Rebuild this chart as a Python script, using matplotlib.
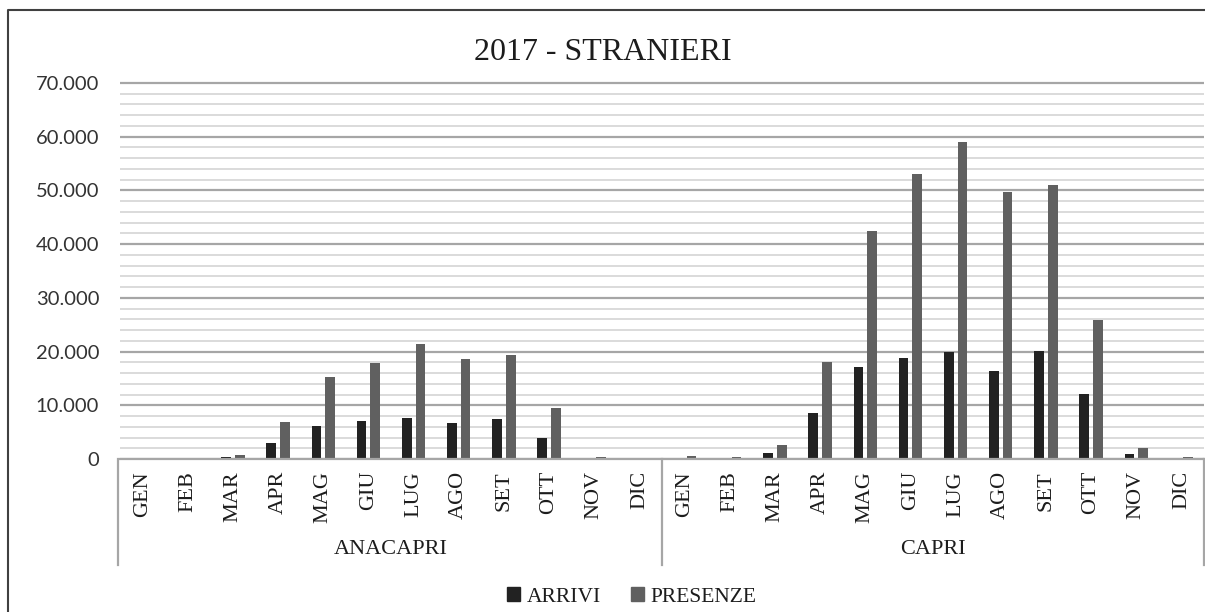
import matplotlib.pyplot as plt
from matplotlib.patches import Patch
from matplotlib.lines import Line2D
from matplotlib.ticker import FuncFormatter
import matplotlib.transforms as mtransforms

mesi = ["GEN", "FEB", "MAR", "APR", "MAG", "GIU", "LUG", "AGO", "SET", "OTT", "NOV", "DIC"]
comuni = ["ANACAPRI", "CAPRI"]

# valori (stranieri 2017)
arrivi_anacapri = [20, 30, 370, 3050, 6150, 7020, 7710, 6770, 7460, 3920, 60, 20]
presenze_anacapri = [60, 80, 810, 6840, 15290, 17840, 21500, 18650, 19330, 9450, 310, 40]
arrivi_capri = [90, 60, 1180, 8640, 17090, 18890, 20010, 16410, 20140, 12180, 990, 60]
presenze_capri = [560, 310, 2550, 18150, 42510, 53010, 58980, 49660, 50960, 25790, 2110, 310]

arrivi = arrivi_anacapri + arrivi_capri
presenze = presenze_anacapri + presenze_capri
labels = mesi + mesi

SERIF = "Liberation Serif"
C_ARR = "#222222"
C_PRE = "#606060"
C_GRID = "#a6a6a6"
C_TXT = "#1c1c1c"

W, H = 1205, 612
fig = plt.figure(figsize=(W / 100, H / 100), dpi=100)
ax = fig.add_axes([120 / W, 1 - 459 / H, 1084 / W, (459 - 81.4) / H])

x = list(range(len(labels)))
ax.bar([i - 0.15 for i in x], arrivi, width=0.215, color=C_ARR, zorder=3)
ax.bar([i + 0.15 for i in x], presenze, width=0.215, color=C_PRE, zorder=3)

ax.set_xlim(-0.5, 23.5)
ax.set_ylim(0, 70300)
ax.set_yticks(range(0, 70001, 10000))
ax.set_yticks(range(0, 70001, 2000), minor=True)
ax.yaxis.set_major_formatter(FuncFormatter(lambda v, p: f"{int(v):,}".replace(",", ".")))
ax.grid(which="minor", axis="y", color="#dadada", lw=1.4, zorder=0)
ax.grid(which="major", axis="y", color=C_GRID, lw=1.6, zorder=1)
ax.tick_params(axis="y", which="both", length=0, pad=15, labelsize=14.5, labelcolor="#333333")
for lab in ax.get_yticklabels():
    lab.set_fontfamily("Lato")
ax.set_xticks([])
for s in ["top", "right", "left"]:
    ax.spines[s].set_visible(False)
ax.spines["bottom"].set_color(C_GRID)
ax.spines["bottom"].set_linewidth(1.6)
ax.spines["bottom"].set_zorder(4)

# etichette dei mesi e dei comuni sotto l'asse
trans = mtransforms.blended_transform_factory(ax.transData, fig.transFigure)
for i, m in enumerate(labels):
    ax.text(i, 1 - 471 / H, m, transform=trans, rotation=90, ha="center", va="top",
            fontsize=16, family=SERIF, color=C_TXT)
for k, c in enumerate(comuni):
    ax.text(5.5 + 12 * k, 1 - 550 / H, c, transform=trans, ha="center", va="center",
            fontsize=16, family=SERIF, color=C_TXT)
for xv in [-0.55, 11.5, 23.5]:
    fig.add_artist(Line2D([xv, xv], [1 - 459 / H, 1 - 565 / H], transform=trans,
                          color=C_GRID, lw=1.6))

fig.text(0.5, 1 - 52 / H, "2017 - STRANIERI", ha="center", va="center",
         fontsize=23, family=SERIF, color=C_TXT)

handles = [Patch(color=C_ARR, label="ARRIVI"), Patch(color=C_PRE, label="PRESENZE")]
fig.legend(handles=handles, loc="center", bbox_to_anchor=(632 / W, 1 - 597 / H), ncol=2,
           frameon=False, prop={"family": SERIF, "size": 15.5}, handlelength=0.6,
           handleheight=0.6, handletextpad=0.3, columnspacing=1.4, labelcolor=C_TXT)

# bordo dell'area del grafico
fig.add_artist(Line2D([8 / W, 8 / W, 1.0], [0.0, 1 - 10 / H, 1 - 10 / H],
                      transform=fig.transFigure, color="#404040", lw=1.5))

fig.savefig("out.png", dpi=100)
